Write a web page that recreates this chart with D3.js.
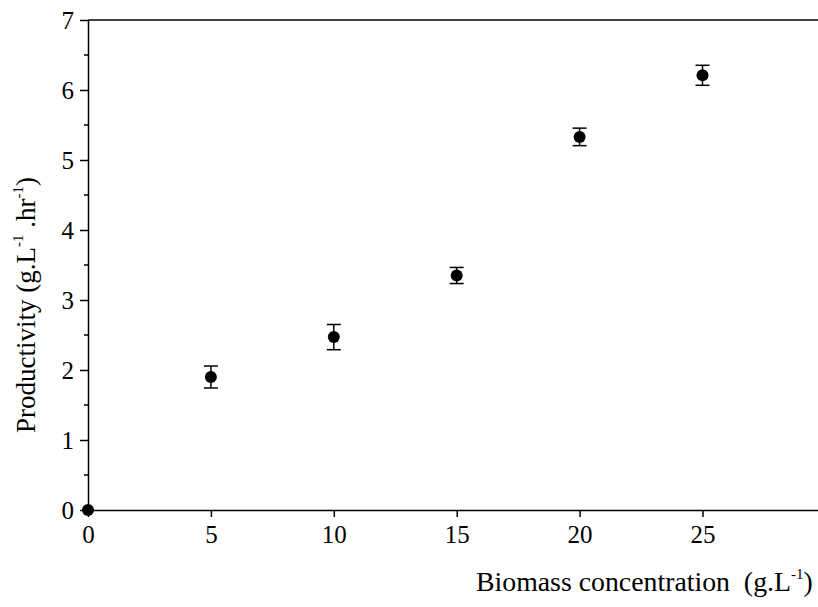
<!DOCTYPE html>
<html>
<head>
<meta charset="utf-8">
<script src="https://cdn.jsdelivr.net/npm/d3@7"></script>
<style>
  html, body { margin: 0; padding: 0; background: #fff; }
  svg { display: block; font-family: "Liberation Serif", "Times New Roman", serif; }
  text { white-space: pre; }
</style>
</head>
<body>
<svg id="chart" width="818" height="607"></svg>
<script>
// Biomass concentration (g/L)
const biomass = [0, 5, 10, 15, 20, 25];
// Mean productivity (g/L/hr)
const productivity = [0, 1.90, 2.47, 3.35, 5.33, 6.21];
// Error bar half-widths
const errors = [0, 0.157, 0.18, 0.115, 0.125, 0.143];
const xTicks = [0, 5, 10, 15, 20, 25];
const yTicks = [0, 1, 2, 3, 4, 5, 6, 7];
const yMinorTicks = [0.5, 1.5, 2.5, 3.5, 4.5, 5.5, 6.5];

const svg = d3.select("#chart");
const plotLeft = 88, plotTop = 20, plotBottom = 510;

const x = d3.scaleLinear().domain([0, 30]).range([plotLeft, plotLeft + 30 * 24.58]);
const y = d3.scaleLinear().domain([0, 7]).range([plotBottom, plotTop]);

const ink = "#000";

// Top frame line
svg.append("line")
  .attr("x1", plotLeft).attr("x2", 818)
  .attr("y1", plotTop).attr("y2", plotTop)
  .attr("stroke", ink).attr("stroke-width", 1.5);

// Y axis: major ticks with labels
const yAxis = svg.append("g")
  .attr("transform", `translate(${plotLeft},0)`)
  .call(d3.axisLeft(y).tickValues(yTicks).tickFormat(d3.format("d")).tickSize(8).tickPadding(6).tickSizeOuter(0));
yAxis.select(".domain").attr("stroke", ink).attr("stroke-width", 1.5);
yAxis.selectAll(".tick line").attr("stroke", ink).attr("stroke-width", 1.5);
yAxis.selectAll(".tick text")
  .attr("font-family", "Liberation Serif, serif")
  .attr("font-size", 25).attr("fill", ink).attr("dy", "0.34em");

// Y axis minor ticks
svg.append("g")
  .selectAll("line")
  .data(yMinorTicks)
  .join("line")
  .attr("x1", plotLeft - 4).attr("x2", plotLeft)
  .attr("y1", d => y(d)).attr("y2", d => y(d))
  .attr("stroke", ink).attr("stroke-width", 1.5);

// X axis
const xAxis = svg.append("g")
  .attr("transform", `translate(0,${plotBottom})`)
  .call(d3.axisBottom(x).tickValues(xTicks).tickFormat(d3.format("d")).tickSize(7).tickPadding(6).tickSizeOuter(0));
xAxis.select(".domain").attr("stroke", ink).attr("stroke-width", 1.5);
xAxis.selectAll(".tick line").attr("stroke", ink).attr("stroke-width", 1.5);
xAxis.selectAll(".tick text")
  .attr("font-family", "Liberation Serif, serif")
  .attr("font-size", 25).attr("fill", ink).attr("dy", "0.78em");

// Error bars
const pts = biomass.map((b, i) => ({ x: b, y: productivity[i], e: errors[i] }));
const eb = svg.append("g").attr("stroke", ink).attr("stroke-width", 1.5);
const withErr = pts.filter(d => d.e > 0);
eb.selectAll("line.v").data(withErr).join("line").attr("class", "v")
  .attr("x1", d => x(d.x)).attr("x2", d => x(d.x))
  .attr("y1", d => y(d.y + d.e)).attr("y2", d => y(d.y - d.e));
eb.selectAll("line.top").data(withErr).join("line").attr("class", "top")
  .attr("x1", d => x(d.x) - 7).attr("x2", d => x(d.x) + 7)
  .attr("y1", d => y(d.y + d.e)).attr("y2", d => y(d.y + d.e));
eb.selectAll("line.bot").data(withErr).join("line").attr("class", "bot")
  .attr("x1", d => x(d.x) - 7).attr("x2", d => x(d.x) + 7)
  .attr("y1", d => y(d.y - d.e)).attr("y2", d => y(d.y - d.e));

// Points
svg.append("g").selectAll("circle").data(pts).join("circle")
  .attr("cx", d => x(d.x)).attr("cy", d => y(d.y))
  .attr("r", 6).attr("fill", ink);

// Axis titles
const yTitle = svg.append("text")
  .attr("transform", "translate(35,305) rotate(-90)")
  .attr("text-anchor", "middle")
  .attr("font-size", 27).attr("fill", ink);
yTitle.append("tspan").text("Productivity (g.L");
yTitle.append("tspan").attr("font-size", 15).attr("dy", -12).text("-1");
yTitle.append("tspan").attr("dy", 12).text(" .hr");
yTitle.append("tspan").attr("font-size", 15).attr("dy", -12).text("-1");
yTitle.append("tspan").attr("dy", 12).text(")");

const xTitle = svg.append("text")
  .attr("x", 476).attr("y", 591)
  .attr("font-size", 27.8).attr("fill", ink);
xTitle.append("tspan").text("Biomass concentration  (g.L");
xTitle.append("tspan").attr("font-size", 15).attr("dy", -12).text("-1");
xTitle.append("tspan").attr("dy", 12).text(")");
</script>
</body>
</html>
